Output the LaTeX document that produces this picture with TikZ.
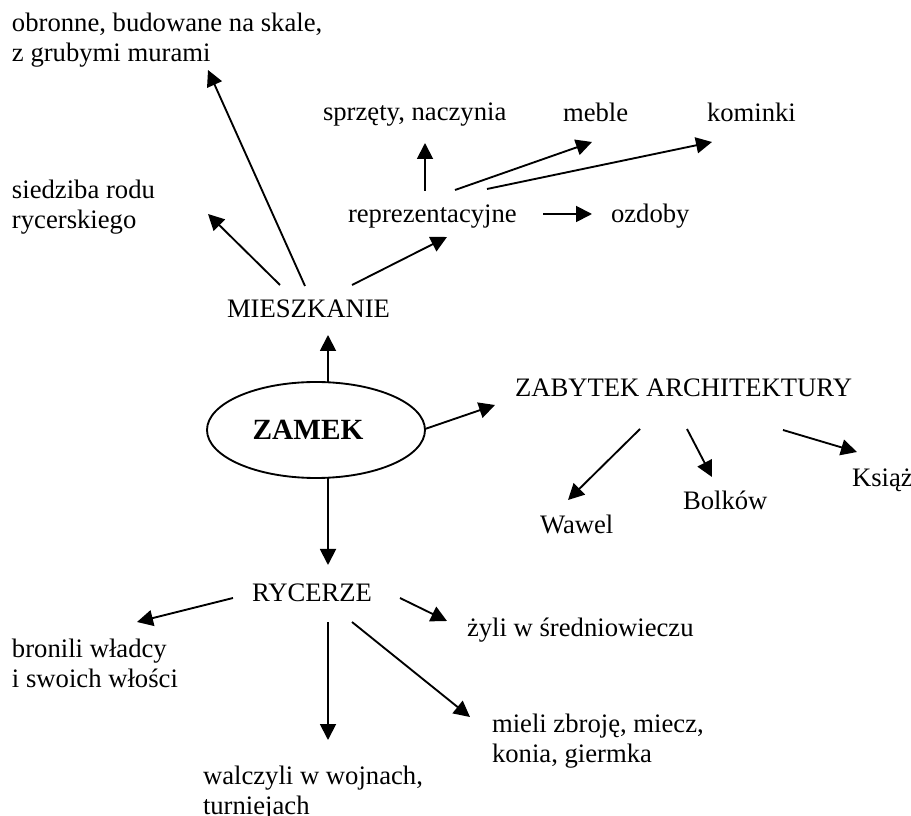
\documentclass[tikz,border=0pt]{standalone}
\usepackage{fontspec}
\setmainfont{Liberation Serif}
\usetikzlibrary{arrows.meta,shapes.geometric}
\begin{document}
\begin{tikzpicture}[x=0.75pt,y=-0.75pt,
  txt/.style={anchor=base west, inner sep=0pt, outer sep=0pt,
    font=\fontsize{20}{22.5}\selectfont, align=left},
  arr/.style={line width=1.4pt, -{Triangle[length=12pt,width=12pt]}}]
\useasboundingbox (0,0) rectangle (911,816);
% text nodes (multi-line nodes: base = baseline of last line)
\node[txt] (obronne) at (12,62) {obronne, budowane na skale,\\z grubymi murami};
\node[txt] (siedziba) at (12,229) {siedziba rodu\\rycerskiego};
\node[txt] (sprzety) at (323,121) {sprzęty, naczynia};
\node[txt] (meble) at (563,122) {meble};
\node[txt] (kominki) at (707,122) {kominki};
\node[txt] (repr) at (348,223) {reprezentacyjne};
\node[txt] (ozdoby) at (611,223) {ozdoby};
\node[txt] (mieszkanie) at (227,318) {MIESZKANIE};
\node[ellipse, draw, line width=1.4pt, inner sep=0pt, outer sep=0pt,
  minimum width=163.5pt, minimum height=72pt,
  font=\fontsize{22}{26}\selectfont\bfseries] (zamek) at (316,430) {\kern-12pt\raisebox{-2pt}{ZAMEK}};
\node[txt] (zabytek) at (515,397) {ZABYTEK ARCHITEKTURY};
\node[txt] (ksiaz) at (852,487) {Książ};
\node[txt] (bolkow) at (683,510) {Bolków};
\node[txt] (wawel) at (540,534) {Wawel};
\node[txt] (rycerze) at (252,601) {RYCERZE};
\node[txt] (bronili) at (12,687) {bronili władcy\\i swoich włości};
\node[txt] (walczyli) at (203,814) {walczyli w wojnach,\\turniejach};
\node[txt] (zyli) at (467,636) {żyli w średniowieczu};
\node[txt] (mieli) at (492,762) {mieli zbroję, miecz,\\konia, giermka};
% connector ends
\coordinate (m-obr) at (305,286); \coordinate (obr-in) at (208,70);
\coordinate (m-sie) at (280,285); \coordinate (sie-in) at (208,214);
\coordinate (m-rep) at (352,285); \coordinate (rep-in) at (447,237);
\coordinate (r-spr) at (425,191); \coordinate (spr-in) at (425,143);
\coordinate (r-meb) at (455,190); \coordinate (meb-in) at (592,142);
\coordinate (r-kom) at (487,189); \coordinate (kom-in) at (712,142);
\coordinate (r-ozd) at (543,214); \coordinate (ozd-in) at (592,214);
\coordinate (z-mie) at (328,382); \coordinate (mie-in) at (328,335);
\coordinate (z-zab) at (425,429); \coordinate (zab-in) at (495,405);
\coordinate (a-waw) at (640,429); \coordinate (waw-in) at (568,500);
\coordinate (a-bol) at (687,429); \coordinate (bol-in) at (712,477);
\coordinate (a-ksi) at (783,430); \coordinate (ksi-in) at (857,452);
\coordinate (z-ryc) at (328,478); \coordinate (ryc-in) at (328,565);
\coordinate (y-bro) at (233,598); \coordinate (bro-in) at (137,622);
\coordinate (y-wal) at (328,622); \coordinate (wal-in) at (328,740);
\coordinate (y-zyl) at (400,598); \coordinate (zyl-in) at (447,621);
\coordinate (y-mie) at (352,622); \coordinate (mil-in) at (470,717);
% connectors
\draw[arr] (m-obr) -- (obr-in);
\draw[arr] (m-sie) -- (sie-in);
\draw[arr] (m-rep) -- (rep-in);
\draw[arr] (r-spr) -- (spr-in);
\draw[arr] (r-meb) -- (meb-in);
\draw[arr] (r-kom) -- (kom-in);
\draw[arr] (r-ozd) -- (ozd-in);
\draw[arr] (z-mie) -- (mie-in);
\draw[arr] (z-zab) -- (zab-in);
\draw[arr] (a-waw) -- (waw-in);
\draw[arr] (a-bol) -- (bol-in);
\draw[arr] (a-ksi) -- (ksi-in);
\draw[arr] (z-ryc) -- (ryc-in);
\draw[arr] (y-bro) -- (bro-in);
\draw[arr] (y-wal) -- (wal-in);
\draw[arr] (y-zyl) -- (zyl-in);
\draw[arr] (y-mie) -- (mil-in);
\end{tikzpicture}
\end{document}
